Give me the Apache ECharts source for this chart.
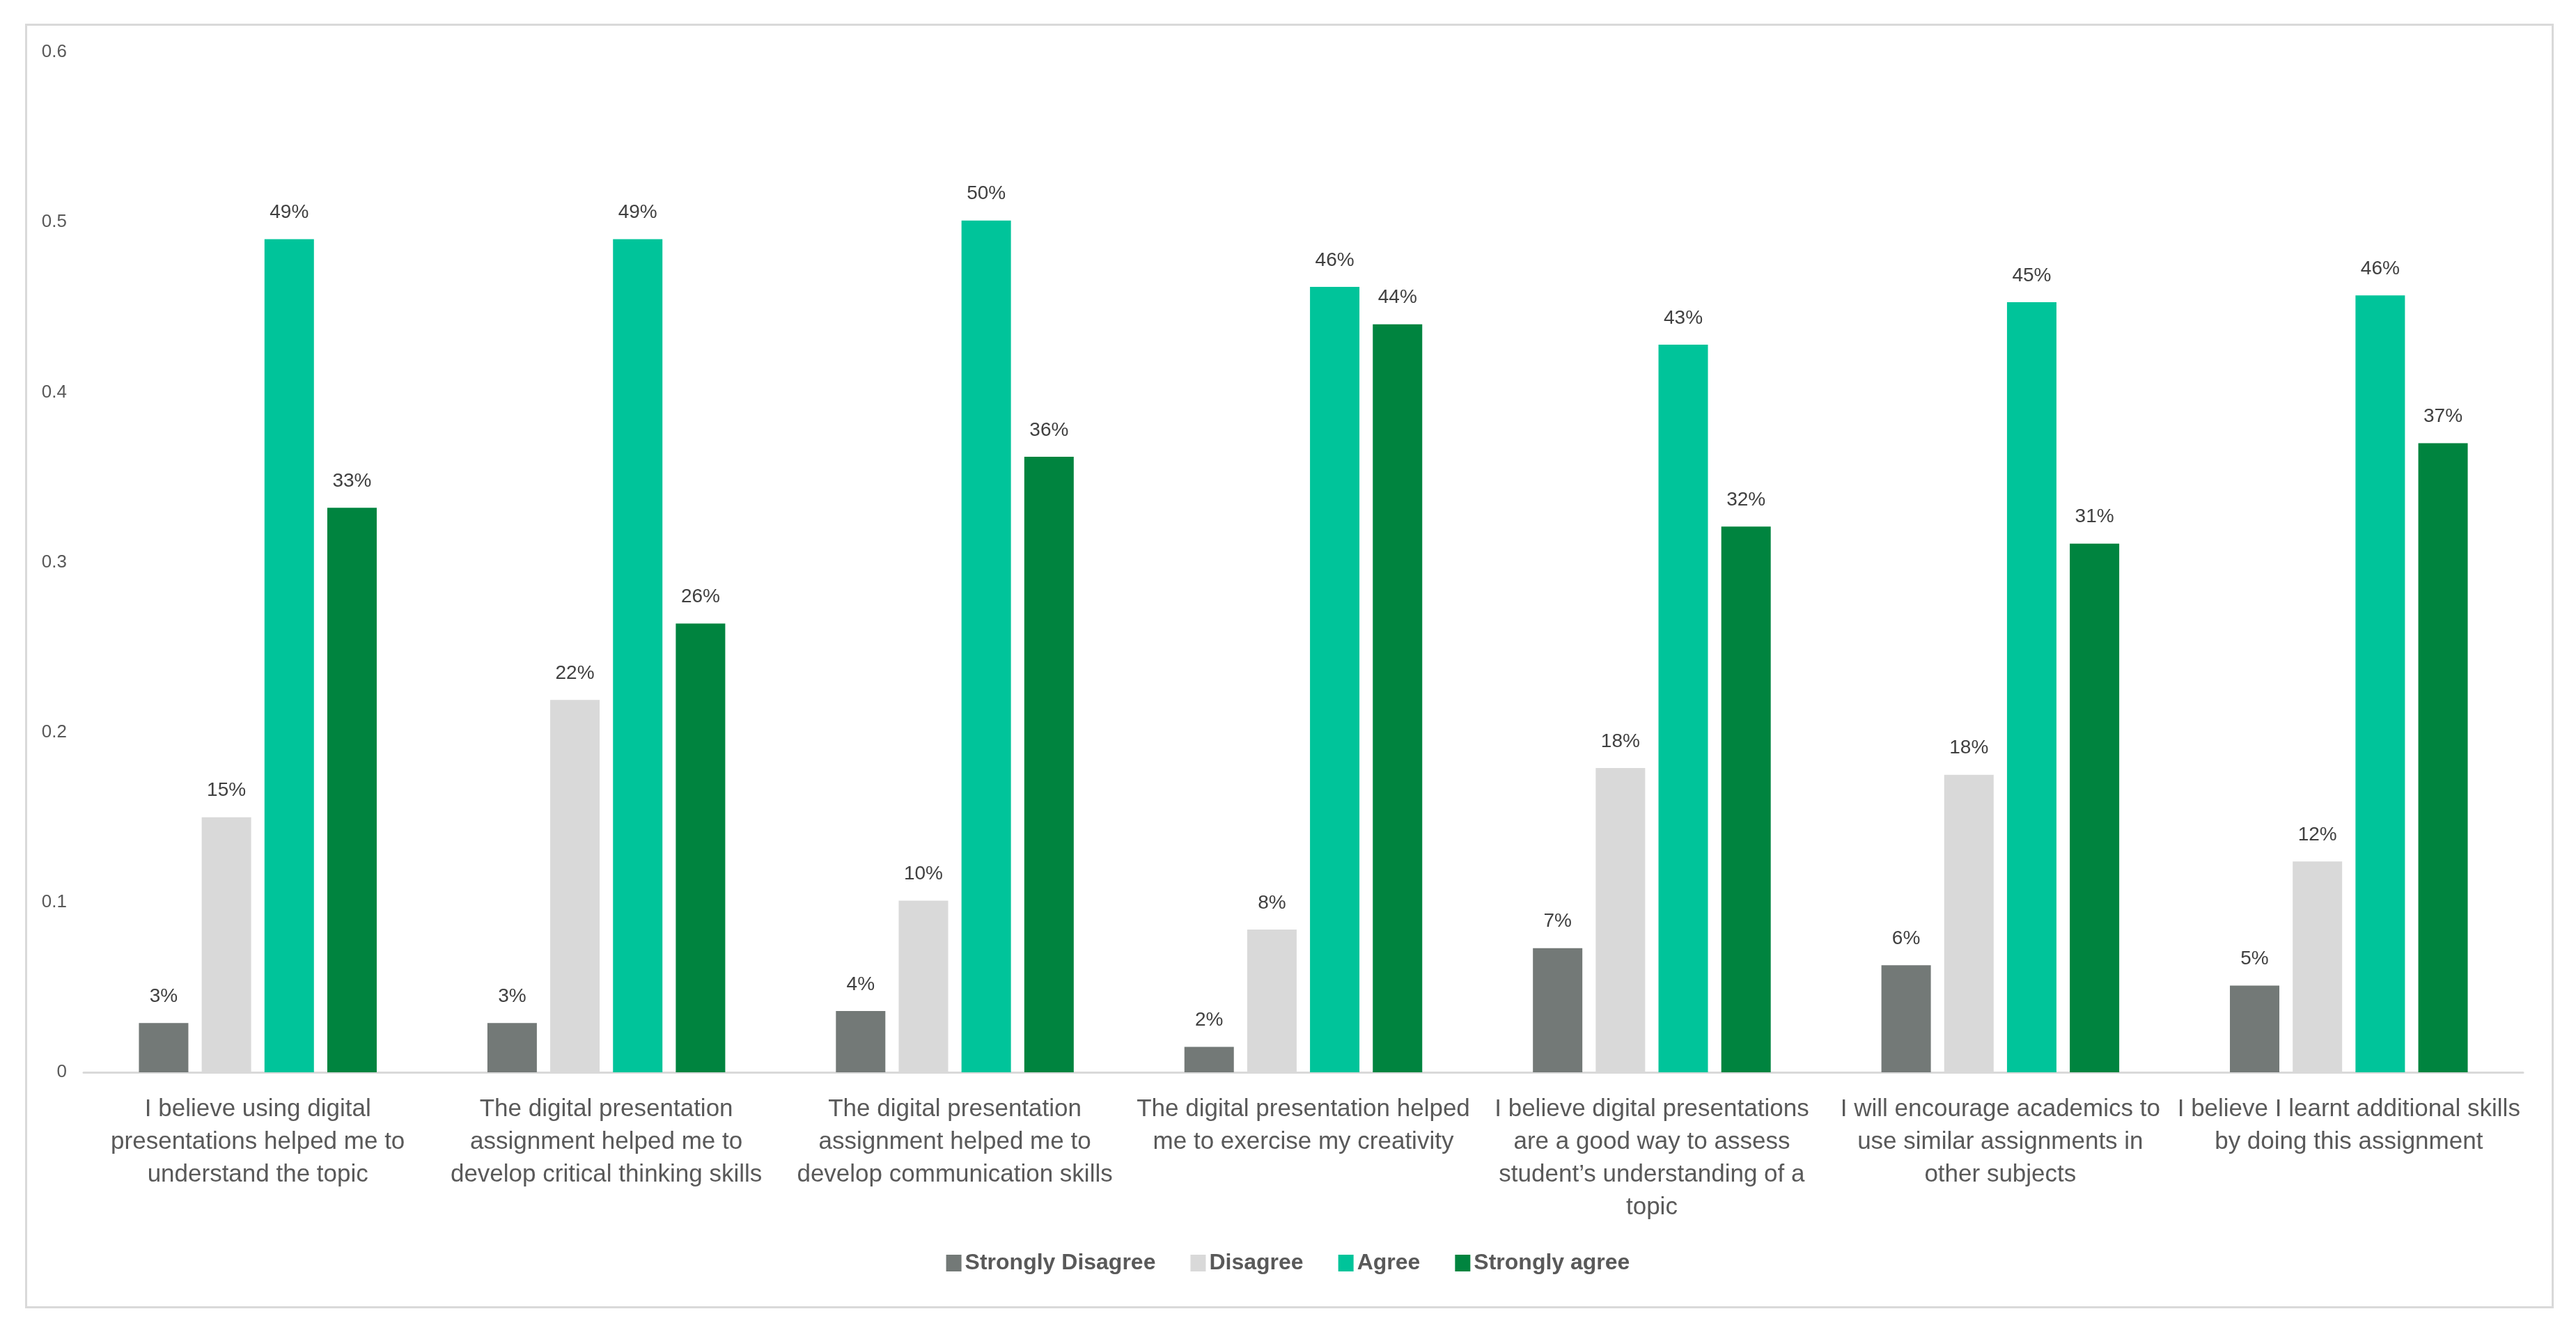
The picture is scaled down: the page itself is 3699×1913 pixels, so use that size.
<!DOCTYPE html>
<html>
<head>
<meta charset="utf-8">
<script src="https://cdn.jsdelivr.net/npm/echarts@6/dist/echarts.min.js"></script>
<style>html,body{margin:0;padding:0;background:#fff;}#c{width:3699px;height:1913px;}</style>
</head>
<body>
<div id="c"></div>
<script>
const categories = [
  "I believe using digital\npresentations helped me to\nunderstand the topic",
  "The digital presentation\nassignment helped me to\ndevelop critical thinking skills",
  "The digital presentation\nassignment helped me to\ndevelop communication skills",
  "The digital presentation helped\nme to exercise my creativity",
  "I believe digital presentations\nare a good way to assess\nstudent\u2019s understanding of a\ntopic",
  "I will encourage academics to\nuse similar assignments in\nother subjects",
  "I believe I learnt additional skills\nby doing this assignment"
];
const seriesNames = ["Strongly Disagree", "Disagree", "Agree", "Strongly agree"];
const stronglyDisagree = [0.029, 0.029, 0.036, 0.015, 0.073, 0.063, 0.051];
const disagree = [0.150, 0.219, 0.101, 0.084, 0.179, 0.175, 0.124];
const agree = [0.490, 0.490, 0.501, 0.462, 0.428, 0.453, 0.457];
const stronglyAgree = [0.332, 0.264, 0.362, 0.440, 0.321, 0.311, 0.370];
const yTicks = [0, 0.1, 0.2, 0.3, 0.4, 0.5, 0.6];
const colors = ["#737977", "#d9d9d9", "#00c49a", "#00843f"];

const font = "Liberation Sans";
const allValues = [stronglyDisagree, disagree, agree, stronglyAgree];
const chart = echarts.init(document.getElementById('c'));
chart.setOption({
  animation: false,
  backgroundColor: '#fff',
  textStyle: { fontFamily: font },
  graphic: [{
    type: 'rect', left: 35, top: 33, silent: true,
    shape: { width: 3628, height: 1842 },
    style: { fill: 'none', stroke: '#d9d9d9', lineWidth: 3 }
  }],
  legend: {
    data: seriesNames,
    bottom: 78, left: 'center',
    itemWidth: 22, itemHeight: 24, itemGap: 50,
    icon: 'rect',
    textStyle: { fontSize: 32, fontWeight: 'bold', color: '#595959', fontFamily: font }
  },
  grid: { left: 120, right: 76, top: 75, bottom: 373, containLabel: false },
  xAxis: {
    type: 'category', data: categories,
    axisLine: { show: true, lineStyle: { color: '#d9d9d9', width: 3 } },
    axisTick: { show: false },
    axisLabel: { interval: 0, fontSize: 35, lineHeight: 47, color: '#595959', margin: 30, fontFamily: font }
  },
  yAxis: {
    type: 'value', min: 0, max: 0.6, interval: 0.1,
    axisLine: { show: false }, axisTick: { show: false }, splitLine: { show: false },
    axisLabel: { fontSize: 26, color: '#595959', margin: 24, fontFamily: font,
      formatter: v => { const t = yTicks.find(x => Math.abs(x - v) < 1e-9); return t === 0 ? '0' : String(+v.toFixed(1)); } }
  },
  series: seriesNames.map((name, i) => ({
    name, type: 'bar', data: allValues[i],
    barWidth: 71, barGap: '27%', barCategoryGap: '32%',
    itemStyle: { color: colors[i] },
    label: { show: true, position: 'top', distance: 24, fontSize: 28, color: '#404040', fontFamily: font,
      formatter: p => Math.round(p.value * 100) + '%' }
  }))
});
</script>
</body>
</html>
